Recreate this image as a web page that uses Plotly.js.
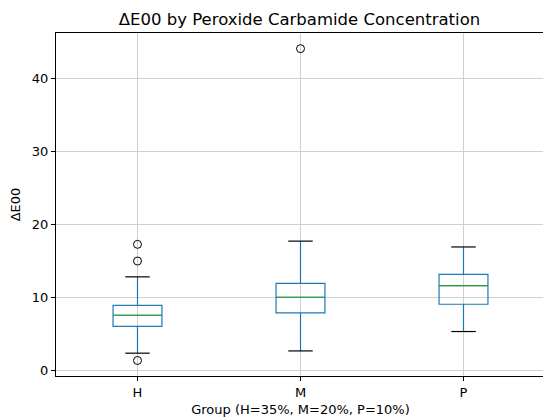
<!DOCTYPE html>
<html>
<head>
<meta charset="utf-8">
<script src="https://cdn.plot.ly/plotly-3.0.1.min.js"></script>
<style>html,body{margin:0;padding:0;overflow:hidden;background:#fff}</style>
</head>
<body>
<div id="chart"></div>
<script>
// Data
const groups = ['H', 'M', 'P'];
const positions = [1, 2, 3];
const lowerWhisker = [2.33, 2.64, 5.3];
const q1 = [6.0, 7.85, 9.04];
const median = [7.53, 10.0, 11.6];
const q3 = [8.9, 11.9, 13.15];
const upperWhisker = [12.8, 17.7, 16.9];
const outlierGroups = ['H', 'H', 'H', 'M'];
const outlierValues = [17.26, 14.97, 1.33, 44.1];

const boxWidth = 0.3;
const capHalf = boxWidth / 4;
const medHalf = boxWidth / 2;

const traces = [];
traces.push({
  type: 'box',
  x: positions,
  q1: q1, median: median, q3: q3,
  lowerfence: lowerWhisker, upperfence: upperWhisker,
  width: boxWidth,
  whiskerwidth: 0,
  fillcolor: 'rgba(0,0,0,0)',
  line: {color: '#1f77b4', width: 1.2},
  boxpoints: false,
  showlegend: false,
  hoverinfo: 'skip'
});
// medians (green)
const mx = [], my = [];
positions.forEach((p, i) => { mx.push(p - medHalf, p + medHalf, null); my.push(median[i], median[i], null); });
traces.push({type: 'scatter', mode: 'lines', x: mx, y: my, line: {color: '#2ca02c', width: 1.2}, showlegend: false, hoverinfo: 'skip'});
// caps (black)
const cx = [], cy = [];
positions.forEach((p, i) => {
  cx.push(p - capHalf, p + capHalf, null); cy.push(lowerWhisker[i], lowerWhisker[i], null);
  cx.push(p - capHalf, p + capHalf, null); cy.push(upperWhisker[i], upperWhisker[i], null);
});
traces.push({type: 'scatter', mode: 'lines', x: cx, y: cy, line: {color: '#000000', width: 1.2}, showlegend: false, hoverinfo: 'skip'});
// outliers
traces.push({
  type: 'scatter', mode: 'markers',
  x: outlierGroups.map(g => positions[groups.indexOf(g)]),
  y: outlierValues,
  marker: {symbol: 'circle-open', size: 8, color: '#000000', line: {width: 1, color: '#000000'}},
  showlegend: false, hoverinfo: 'skip'
});

const font = 'DejaVu Sans, sans-serif';
const layout = {
  width: 545, height: 418,
  margin: {l: 56, r: 0, t: 33, b: 42},
  paper_bgcolor: '#ffffff', plot_bgcolor: '#ffffff',
  font: {family: font, size: 13, color: '#000000'},
  title: {text: 'ΔE00 by Peroxide Carbamide Concentration', font: {family: font, size: 16.5, color: '#000'},
          x: (56 + 543) / 2 / 545, xref: 'container', xanchor: 'center', y: 1 - 19 / 418, yref: 'container', yanchor: 'middle'},
  xaxis: {
    range: [0.5, 3.5], tickvals: positions, ticktext: groups,
    showgrid: true, gridcolor: '#d0d0d0', gridwidth: 1,
    zeroline: false, showline: true, linecolor: '#000', linewidth: 1, mirror: true,
    ticks: 'outside', ticklen: 4, tickcolor: '#000', tickwidth: 1,
    tickfont: {family: font, size: 13, color: '#000'},
    title: {text: 'Group (H=35%, M=20%, P=10%)', font: {family: font, size: 13, color: '#000'}, standoff: 6}
  },
  yaxis: {
    range: [-0.8, 46.25], tickvals: [0, 10, 20, 30, 40],
    showgrid: true, gridcolor: '#d0d0d0', gridwidth: 1,
    zeroline: false, showline: true, linecolor: '#000', linewidth: 1, mirror: false,
    ticks: 'outside', ticklen: 4, tickcolor: '#000', tickwidth: 1,
    tickfont: {family: font, size: 13, color: '#000'},
    title: {text: 'ΔE00', font: {family: font, size: 13, color: '#000'}, standoff: 8}
  }
};
Plotly.newPlot('chart', traces, layout, {displayModeBar: false, staticPlot: true});
</script>
</body>
</html>
